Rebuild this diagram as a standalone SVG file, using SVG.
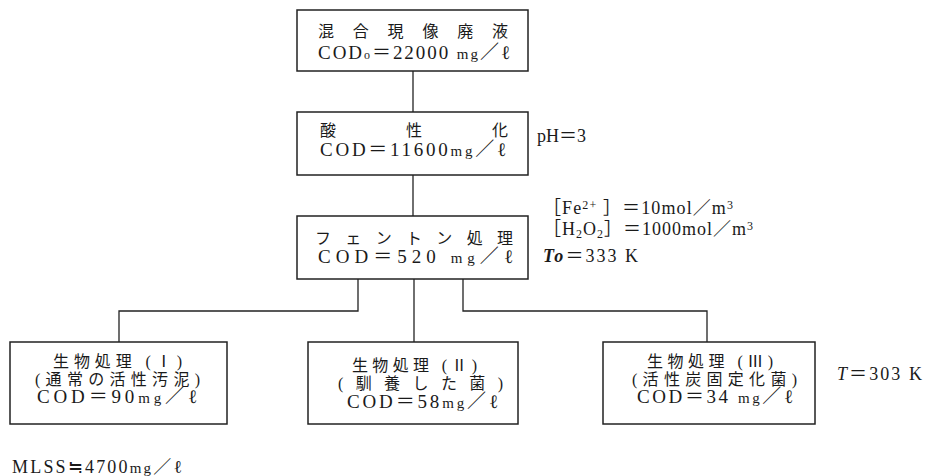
<svg xmlns="http://www.w3.org/2000/svg" width="927" height="476" viewBox="0 0 927 476">
<style>
.box{fill:#fff;stroke:#222;stroke-width:1.5}
.ln{fill:none;stroke:#222;stroke-width:1.3}
text{font-family:"Liberation Serif","Noto Sans CJK JP",serif;fill:#1a1a1a;font-size:19px}
.jp{font-size:16px}
.sm{font-size:12px}
.mg{font-size:15px}
.note{font-size:18px}
</style>
<rect width="927" height="476" fill="#fff"/>
<g id="connectors">
<path class="ln" d="M413 71V112"/>
<path class="ln" d="M413 175V216"/>
<path class="ln" d="M358 279V311H119V342"/>
<path class="ln" d="M414 279V342"/>
<path class="ln" d="M463 279V311H707V342"/>
</g>
<g id="n1">
<rect class="box" x="297" y="10" width="231" height="61"/>
<text class="jp" x="318" y="37" textLength="190" lengthAdjust="spacing">混合現像廃液</text>
<text x="318" y="59" textLength="192" lengthAdjust="spacing">COD<tspan class="sm">o</tspan>＝22000 <tspan class="mg">mg</tspan>／ℓ</text>
</g>
<g id="n2">
<rect class="box" x="297" y="112" width="231" height="63"/>
<text class="jp" x="320" y="136" textLength="188" lengthAdjust="spacing">酸性化</text>
<text x="320" y="156" textLength="186" lengthAdjust="spacing">COD＝11600<tspan class="mg">mg</tspan>／ℓ</text>
</g>
<text class="note" x="537" y="142" font-size="19">pH＝3</text>
<g id="n3">
<rect class="box" x="297" y="216" width="231" height="63"/>
<text class="jp" x="315" y="244" textLength="198" lengthAdjust="spacing">フェントン処理</text>
<text x="318" y="263" textLength="195" lengthAdjust="spacing">COD＝520 <tspan class="mg">mg</tspan>／ℓ</text>
</g>
<text class="note" x="543" y="214" textLength="190" lengthAdjust="spacing">［Fe<tspan class="sm" dy="-5">2+</tspan><tspan dy="5"> ］＝10mol／m</tspan><tspan class="sm" dy="-5">3</tspan></text>
<text class="note" x="543" y="235" textLength="210" lengthAdjust="spacing">［H<tspan class="sm" dy="3">2</tspan><tspan dy="-3">O</tspan><tspan class="sm" dy="3">2</tspan><tspan dy="-3">］＝1000mol／m</tspan><tspan class="sm" dy="-5">3</tspan></text>
<text class="note" x="543" y="262" textLength="95" lengthAdjust="spacing"><tspan font-style="italic" font-weight="bold">To</tspan>＝333 K</text>
<g id="n4">
<rect class="box" x="10" y="342" width="217" height="82"/>
<text class="jp" x="53" y="367" textLength="129" lengthAdjust="spacing">生物処理 (Ⅰ)</text>
<text class="jp" x="35" y="385" textLength="165" lengthAdjust="spacing">(通常の活性汚泥)</text>
<text x="37" y="403" textLength="160" lengthAdjust="spacing">COD＝90<tspan class="mg">mg</tspan>／ℓ</text>
</g>
<g id="n5">
<rect class="box" x="308" y="342" width="210" height="82"/>
<text class="jp" x="352" y="371" textLength="125" lengthAdjust="spacing">生物処理 (Ⅱ)</text>
<text class="jp" x="338" y="389" textLength="165" lengthAdjust="spacing">(馴養した菌)</text>
<text x="347" y="408" textLength="151" lengthAdjust="spacing">COD＝58<tspan class="mg">mg</tspan>／ℓ</text>
</g>
<g id="n6">
<rect class="box" x="603" y="342" width="212" height="82"/>
<text class="jp" x="647" y="367" textLength="126" lengthAdjust="spacing">生物処理 (Ⅲ)</text>
<text class="jp" x="632" y="385" textLength="165" lengthAdjust="spacing">(活性炭固定化菌)</text>
<text x="637" y="403" textLength="156" lengthAdjust="spacing">COD＝34 <tspan class="mg">mg</tspan>／ℓ</text>
</g>
<text class="note" x="837" y="380" textLength="85" lengthAdjust="spacing"><tspan font-style="italic">T</tspan>＝303 K</text>
<text class="note" x="12" y="473" textLength="170" lengthAdjust="spacing">MLSS≒4700<tspan class="mg">mg</tspan>／ℓ</text>
</svg>
